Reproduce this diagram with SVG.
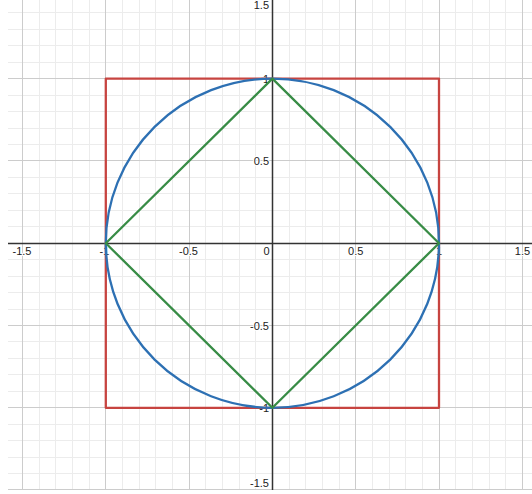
<svg xmlns="http://www.w3.org/2000/svg" width="532" height="494" viewBox="0 0 532 494">
<style>
.minor{stroke:#ececec;stroke-width:1;fill:none}
.major{stroke:#cccccc;stroke-width:1;fill:none}
.axis{stroke:#333;stroke-width:1.5;fill:none}
.lbl{font-family:"Liberation Sans",Arial,sans-serif;font-size:11px;fill:#222;stroke:#fff;stroke-width:2;paint-order:stroke;stroke-linejoin:round}
.curve{fill:none;stroke-width:2.3;stroke-linejoin:round}
</style>
<defs>
<clipPath id="plot"><rect x="8" y="0" width="524" height="490"/></clipPath>
</defs>
<rect x="0" y="0" width="532" height="494" fill="#fff"/>
<g id="grid" clip-path="url(#plot)">
<path class="minor" d="M39.5 0V494M55.5 0V494M72.5 0V494M89.5 0V494M122.5 0V494M139.5 0V494M155.5 0V494M172.5 0V494M205.5 0V494M222.5 0V494M239.5 0V494M255.5 0V494M289.5 0V494M305.5 0V494M322.5 0V494M339.5 0V494M372.5 0V494M389.5 0V494M405.5 0V494M422.5 0V494M455.5 0V494M472.5 0V494M489.5 0V494M505.5 0V494
M0 12.5H532M0 29.5H532M0 45.5H532M0 62.5H532M0 95.5H532M0 111.5H532M0 128.5H532M0 144.5H532M0 177.5H532M0 193.5H532M0 210.5H532M0 226.5H532M0 259.5H532M0 276.5H532M0 292.5H532M0 309.5H532M0 341.5H532M0 358.5H532M0 374.5H532M0 391.5H532M0 424.5H532M0 440.5H532M0 457.5H532M0 473.5H532"/>
<path class="major" d="M22.5 0V494M105.5 0V494M189.5 0V494M355.5 0V494M439.5 0V494M522.5 0V494M0 78.5H532M0 160.5H532M0 325.5H532M0 407.5H532M0 489.5H532"/>
<path class="axis" d="M272.5 0V494M0 243.5H532"/>
</g>
<g id="labels">
<text class="lbl" x="269" y="8.5" text-anchor="end">1.5</text>
<text class="lbl" x="269" y="82.5" text-anchor="end">1</text>
<text class="lbl" x="269" y="164.5" text-anchor="end">0.5</text>
<text class="lbl" x="269.5" y="255" text-anchor="end">0</text>
<text class="lbl" x="269" y="329.5" text-anchor="end">-0.5</text>
<text class="lbl" x="269" y="411.5" text-anchor="end">-1</text>
<text class="lbl" x="269" y="487" text-anchor="end">-1.5</text>
<text class="lbl" x="12.5" y="255">-1.5</text>
<text class="lbl" x="99.5" y="255">-1</text>
<text class="lbl" x="179" y="255">-0.5</text>
<text class="lbl" x="355.7" y="255" text-anchor="middle">0.5</text>
<text class="lbl" x="439" y="255" text-anchor="middle">1</text>
<text class="lbl" x="522.5" y="255" text-anchor="middle">1.5</text>
</g>
<g id="connectors">
<rect id="square" class="curve" x="105.8" y="78.6" width="333.2" height="329.2" stroke="#c74440"/>
<ellipse id="circle" class="curve" cx="272.4" cy="243.2" rx="166.6" ry="164.6" stroke="#2d70b3"/>
<polygon id="diamond" class="curve" points="272.4,78.6 439,243.2 272.4,407.8 105.8,243.2" stroke="#388c46"/>
</g>
</svg>
